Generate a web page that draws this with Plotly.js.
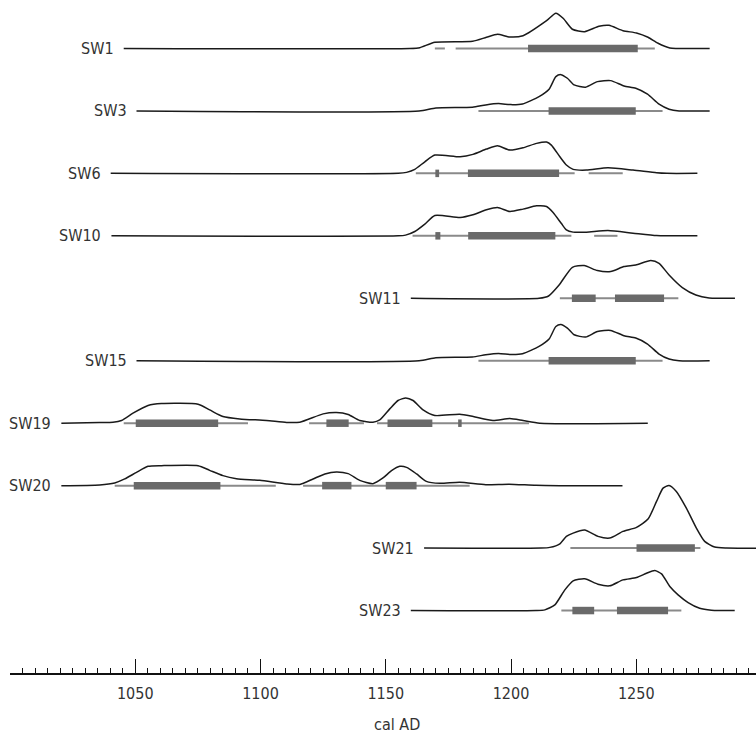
<!DOCTYPE html>
<html>
<head>
<meta charset="utf-8">
<script src="https://cdn.plot.ly/plotly-3.0.1.min.js"></script>
<style>html,body{margin:0;padding:0;background:#fff;}#chart{width:756px;height:735px;}</style>
</head>
<body>
<div id="chart"></div>
<script>
// ---- DATA (cal AD; density in relative units) ----
const labels = ['SW1','SW3','SW6','SW10','SW11','SW15','SW19','SW20','SW21','SW23'];

const sw1Years = [1045.4,1159.6,1163.6,1169.6,1184.7,1190.2,1194.6,1199.5,1204.8,1214.2,1217.9,1220.8,1224.5,1229.4,1235.1,1239.1,1244.7,1250.1,1254.7,1258.7,1263.4,1266.0,1279.3];
const sw1Dens  = [0,0,0.8,6.2,7.2,11.2,14.2,11.5,12.8,27.8,35.2,30.2,19.2,16.8,22.2,23.2,17.8,15.5,11.2,5.2,0.5,0,0];
const sw1Range95 = [[1169.6,1173.6],[1177.9,1257.4]];
const sw1Range68 = [[1206.8,1250.6]];

const sw3Years = [1050.5,1163.3,1170.0,1184.6,1189.9,1195.0,1199.9,1204.6,1211.2,1215.2,1217.9,1219.9,1222.5,1225.2,1229.8,1234.5,1239.8,1245.1,1249.8,1254.5,1259.1,1263.1,1267.1,1279.3];
const sw3Dens  = [0,0,3,3.7,6,7.3,6.3,7,14.3,21.7,34.3,36.3,32.7,26,23.7,29.3,30.3,25,22.7,16.7,6.7,1.7,0,0];
const sw3Range95 = [[1187.0,1260.5]];
const sw3Range68 = [[1215.0,1249.8]];

const sw6Years = [1040.2,1155.0,1158.3,1161.6,1165.6,1169.6,1179.7,1184.8,1190.2,1194.6,1199.5,1204.8,1210.2,1214.2,1216.1,1219.5,1222.1,1224.8,1230.1,1238.7,1248.7,1258.1,1262.1,1274.4];
const sw6Dens  = [0,0,1,4,11.6,18.3,16.6,19,24.3,27.6,23.3,25.6,30,31.3,28.3,16.6,8.3,4,3.3,5.6,3.3,0.6,0,0];
const sw6Range95 = [[1162.0,1225.4],[1231.0,1244.6]];
const sw6Range68 = [[1169.8,1171.3],[1182.8,1219.2]];

const sw10Years = [1040.5,1155.0,1157.9,1161.6,1165.6,1169.6,1179.7,1184.8,1190.2,1194.6,1199.5,1204.8,1210.2,1214.2,1216.8,1220.2,1222.1,1224.8,1230.1,1238.7,1248.7,1258.1,1262.1,1274.4];
const sw10Dens  = [0,0,0.7,4.3,11.7,20.3,18.3,21,26,28.3,24.3,26.7,30,29.3,23.3,12,6,3.7,3.7,5.3,2.7,0.3,0,0];
const sw10Range95 = [[1160.7,1224.1],[1233.2,1242.5]];
const sw10Range68 = [[1169.8,1171.8],[1182.9,1217.7]];

const sw11Years = [1160.0,1211.2,1215.0,1219.2,1224.5,1229.2,1234.5,1239.8,1245.1,1249.8,1255.8,1259.1,1263.1,1268.4,1273.8,1279.1,1283.1,1289.4];
const sw11Dens  = [0,0,2.3,13.3,31,32.7,27.7,26.7,31.7,33.3,37.7,35,23.3,10.7,3.3,0.3,0,0];
const sw11Range95 = [[1219.5,1266.8]];
const sw11Range68 = [[1224.3,1233.8],[1241.5,1261.1]];

const sw15Years = [1050.5,1163.3,1170.0,1184.6,1189.9,1195.0,1199.9,1204.6,1211.2,1215.2,1217.9,1219.9,1222.5,1225.2,1229.8,1234.5,1239.8,1245.1,1249.8,1254.5,1259.1,1263.1,1267.1,1279.3];
const sw15Dens  = [0,0,3,3.7,6,7.3,6.3,7,14.3,21.7,34.3,36.3,32.7,26,23.7,29.3,30.3,25,22.7,16.7,6.7,1.7,0,0];
const sw15Range95 = [[1187.0,1260.5]];
const sw15Range68 = [[1215.0,1249.8]];

const sw19Years = [1020.5,1035.8,1041.1,1044.5,1049.1,1055.1,1060.5,1075.1,1079.7,1085.0,1091.7,1102.4,1110.4,1115.7,1125.0,1130.3,1135.0,1139.6,1144.9,1147.6,1151.6,1154.9,1158.0,1160.9,1164.9,1169.6,1179.5,1184.9,1192.8,1199.5,1204.8,1211.5,1254.6];
const sw19Dens  = [0,0.7,1,2.7,10,17.7,19.7,19,13.3,6.7,4.3,2.7,0.7,1,9.3,10.7,8.7,2.7,1,3.3,14.3,22.7,25.3,22.7,13.3,7.7,9,6.7,2.7,4.7,2.7,0,0];
const sw19Range95 = [[1045.4,1095.0],[1119.4,1141.3],[1146.5,1207.2]];
const sw19Range68 = [[1050.2,1083.1],[1126.3,1135.2],[1150.7,1168.6],[1178.9,1180.3]];

const sw20Years = [1020.5,1035.8,1041.8,1045.8,1050.5,1055.1,1060.5,1075.1,1079.7,1085.0,1090.4,1099.7,1110.4,1115.7,1121.0,1125.7,1130.3,1135.0,1139.6,1144.9,1148.9,1152.3,1155.6,1158.3,1162.3,1166.2,1171.6,1179.5,1189.9,1199.2,1209.9,1219.5,1244.5];
const sw20Dens  = [0,0.7,2.7,6.7,13.3,19.3,20,20,15.3,10,7,5.3,1.7,1.2,6.7,11.7,13.7,12,5.3,2,7.7,15,19.3,18.3,11.7,4.3,2.3,3.3,1,1.5,0.3,0,0];
const sw20Range95 = [[1041.8,1106.1],[1117.0,1183.5]];
const sw20Range68 = [[1049.4,1084.0],[1124.6,1136.3],[1150.0,1162.3]];

const sw21Years = [1165.3,1212.0,1215.5,1219.5,1222.1,1224.8,1229.4,1234.7,1239.4,1244.7,1250.1,1254.7,1258.1,1260.7,1263.1,1266.0,1270.0,1274.0,1277.3,1281.3,1286.0,1300.0];
const sw21Dens  = [0,0,0.7,4.3,11.7,15,18,11.7,10,16.7,20.7,29,46.7,60,62.7,56.7,40,20,6.7,1,0,0];
const sw21Range95 = [[1223.7,1275.6]];
const sw21Range68 = [[1250.1,1273.4]];

const sw23Years = [1160.0,1210.0,1213.5,1217.5,1221.5,1224.8,1229.4,1234.7,1239.4,1244.7,1250.1,1254.1,1257.4,1260.1,1263.4,1266.7,1270.7,1275.3,1280.0,1283.3,1289.3];
const sw23Dens  = [0,0,0.7,5.7,20.7,29.7,31.7,26.3,24.7,30.7,33,37.3,40,36.7,24,15.7,8,2.3,0.3,0,0];
const sw23Range95 = [[1220.1,1268.0]];
const sw23Range68 = [[1224.5,1233.2],[1242.3,1262.7]];

const tickYears = [1050,1100,1150,1200,1250];
const tickText  = ['1050','1100','1150','1200','1250'];
const axisTitle = 'cal AD';

// ---- BUILD ----
const rows = [
  [sw1Years,sw1Dens,sw1Range95,sw1Range68],
  [sw3Years,sw3Dens,sw3Range95,sw3Range68],
  [sw6Years,sw6Dens,sw6Range95,sw6Range68],
  [sw10Years,sw10Dens,sw10Range95,sw10Range68],
  [sw11Years,sw11Dens,sw11Range95,sw11Range68],
  [sw15Years,sw15Dens,sw15Range95,sw15Range68],
  [sw19Years,sw19Dens,sw19Range95,sw19Range68],
  [sw20Years,sw20Dens,sw20Range95,sw20Range68],
  [sw21Years,sw21Dens,sw21Range95,sw21Range68],
  [sw23Years,sw23Dens,sw23Range95,sw23Range68]
];
const densScale = 1/62.47;
const FONT = '"DejaVu Sans Condensed", "Liberation Sans Narrow", "Liberation Sans", Arial, sans-serif';
const FS = 16;

function segs(list, base){
  const x=[], y=[];
  list.forEach(s=>{ x.push(s[0],s[1],null); y.push(base,base,null); });
  return {x,y};
}

const traces = [];
const annotations = [];
rows.forEach((r,i)=>{
  const base = -i;
  traces.push({type:'scatter',mode:'lines',x:r[0],y:r[1].map(d=>base+d*densScale),
    line:{color:'#1a1a1a',width:1.5,shape:'spline',smoothing:0.6},hoverinfo:'skip',showlegend:false});
});
rows.forEach((r,i)=>{
  const base = -i;
  const a = segs(r[2],base);
  traces.push({type:'scatter',mode:'lines',x:a.x,y:a.y,connectgaps:false,
    line:{color:'#8a8a8a',width:2},hoverinfo:'skip',showlegend:false});
  const b = segs(r[3],base);
  traces.push({type:'scatter',mode:'lines',x:b.x,y:b.y,connectgaps:false,
    line:{color:'#6a6a6a',width:7.5},hoverinfo:'skip',showlegend:false});
  annotations.push({x:r[0][0],y:base,xref:'x',yref:'y',text:labels[i],showarrow:false,
    xanchor:'right',yanchor:'middle',xshift:-8,font:{family:FONT,size:FS,color:'#333'}});
});
annotations.push({x:0.519,y:-0.076,xref:'paper',yref:'paper',text:axisTitle,showarrow:false,
  xanchor:'center',yanchor:'middle',font:{family:FONT,size:FS,color:'#333'}});

const layout = {
  width:756,height:735,
  margin:{l:10,r:0,t:0,b:61.8,pad:0},
  paper_bgcolor:'#fff',plot_bgcolor:'#fff',
  showlegend:false,
  font:{family:FONT,size:FS,color:'#333'},
  xaxis:{range:[1000,1297.8],showgrid:false,zeroline:false,showline:true,linecolor:'#111',linewidth:1.6,
    tickmode:'array',tickvals:tickYears,ticktext:tickText,ticks:'inside',ticklen:14,tickwidth:1,tickcolor:'#111',
    ticklabelstandoff:5,
    tickfont:{family:FONT,size:FS,color:'#333'},
    minor:{tickmode:'linear',tick0:1000,dtick:5,ticks:'inside',ticklen:5,tickwidth:1,tickcolor:'#111',showgrid:false},
    fixedrange:true},
  yaxis:{range:[-10,0.776],visible:false,showgrid:false,zeroline:false,fixedrange:true},
  annotations:annotations
};
Plotly.newPlot('chart',traces,layout,{displayModeBar:false,staticPlot:true});
</script>
</body>
</html>
